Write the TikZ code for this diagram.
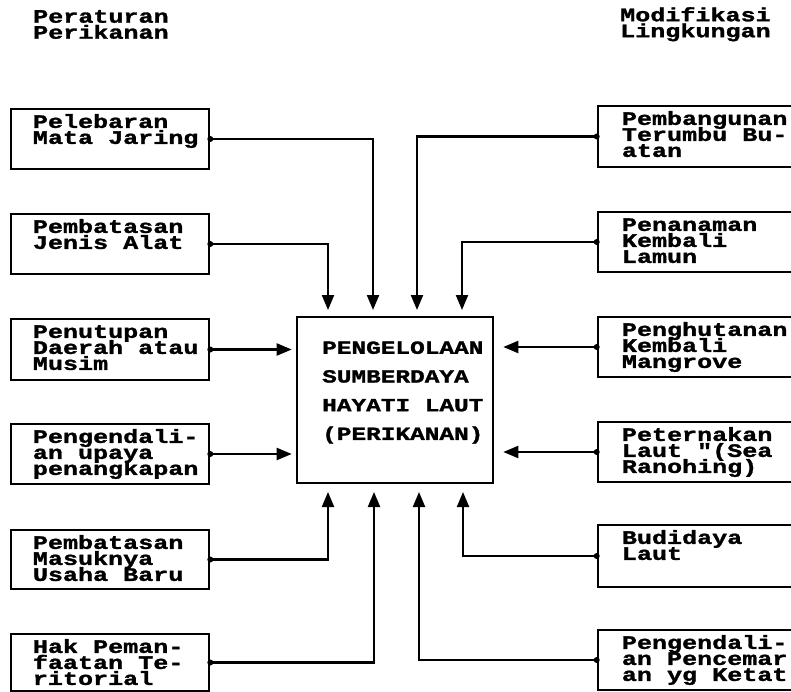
\documentclass[tikz,border=0pt]{standalone}
\usepackage{fontspec}
\usetikzlibrary{arrows.meta,calc}
\newfontfamily\dotfont[FakeStretch=1.32,UprightFont=* Bold,FakeBold=1.5]{Liberation Mono}
\newcommand\boxfont{\dotfont\fontsize{19}{16}\selectfont\lineskiplimit=-100pt\lineskip=0pt\relax}
\newcommand\cenfont{\dotfont\fontsize{18.5}{28.7}\selectfont\lineskiplimit=-100pt\lineskip=0pt\relax}
\newcommand\fs{\rule{0pt}{14pt}}
\tikzset{
  box/.style={draw, line width=2.6pt, rectangle, inner sep=0pt},
  lbox/.style={box, minimum width=198pt},
  rbox/.style={box, minimum width=222pt},
  txt/.style={anchor=north west, inner sep=0pt, align=left, font=\boxfont},
  arr/.style={line width=2.2pt, -{Triangle[length=15pt,width=12pt]}},
  dotc/.style={circle, fill, inner sep=0pt, minimum size=6pt},
}
\begin{document}
\begin{tikzpicture}[x=1pt,y=-1pt]
\useasboundingbox (0,0) rectangle (791,692);
\clip (0,0) rectangle (791,692);
\fill[white] (0,0) rectangle (791,692);

% headers
\node[txt] (h1) at (33,8.5) {\fs Peraturan\\Perikanan};
\node[txt] (h2) at (620,7) {\fs Modifikasi\\Lingkungan};

% centre
\node[box, minimum width=196pt, minimum height=166pt] (c) at (395,400) {};
\node[anchor=north west, inner sep=0pt, align=left, font=\cenfont] (ct) at (322,339.6)
  {\fs PENGELOLAAN\\SUMBERDAYA\\HAYATI LAUT\\(PERIKANAN)};

% left boxes
\node[lbox, minimum height=60pt] (b1) at (110,139) {};
\node[lbox, minimum height=60pt] (b2) at (110,244) {};
\node[lbox, minimum height=61pt] (b3) at (110,349.5) {};
\node[lbox, minimum height=60pt] (b4) at (110,454) {};
\node[lbox, minimum height=59pt] (b5) at (110,559.5) {};
\node[lbox, minimum height=57pt] (b6) at (110,662.5) {};

\node[txt] (t1) at ($(b1.north west)+(23,6)$) {\fs Pelebaran\\Mata Jaring};
\node[txt] (t2) at ($(b2.north west)+(23,6)$) {\fs Pembatasan\\Jenis Alat};
\node[txt] (t3) at ($(b3.north west)+(23,6)$) {\fs Penutupan\\Daerah atau\\Musim};
\node[txt] (t4) at ($(b4.north west)+(23,6)$) {\fs Pengendali-\\an upaya\\penangkapan};
\node[txt] (t5) at ($(b5.north west)+(23,6)$) {\fs Pembatasan\\Masuknya\\Usaha Baru};
\node[txt] (t6) at ($(b6.north west)+(23,6)$) {\fs Hak Peman-\\faatan Te-\\ritorial};

% right boxes
\node[rbox, minimum height=61pt] (r1) at (709,136.5) {};
\node[rbox, minimum height=60pt] (r2) at (709,242) {};
\node[rbox, minimum height=60pt] (r3) at (709,347) {};
\node[rbox, minimum height=60pt] (r4) at (709,452) {};
\node[rbox, minimum height=62pt] (r5) at (709,556) {};
\node[rbox, minimum height=60pt] (r6) at (709,660) {};

\node[txt] (u1) at ($(r1.north west)+(25,6)$) {\fs Pembangunan\\Terumbu Bu-\\atan};
\node[txt] (u2) at ($(r2.north west)+(25,6)$) {\fs Penanaman\\Kembali\\Lamun};
\node[txt] (u3) at ($(r3.north west)+(25,6)$) {\fs Penghutanan\\Kembali\\Mangrove};
\node[txt] (u4) at ($(r4.north west)+(25,6)$) {\fs Peternakan\\Laut "(Sea\\Ranohing)};
\node[txt] (u5) at ($(r5.north west)+(25,6)$) {\fs Budidaya\\Laut};
\node[txt] (u6) at ($(r6.north west)+(25,6)$) {\fs Pengendali-\\an Pencemar\\an yg Ketat};

% arrow end points
\coordinate (n1) at (328,310);
\coordinate (n2) at (373,310);
\coordinate (n3) at (417,310);
\coordinate (n4) at (462,310);
\coordinate (s1) at (328,492);
\coordinate (s2) at (374,492);
\coordinate (s3) at (419,492);
\coordinate (s4) at (463,492);

% connectors
\draw[arr] (b1.east) -| (n2);
\draw[arr] (b2.east) -| (n1);
\draw[arr, shorten >=4pt] (b3.east) -- (b3.east -| c.west);
\draw[arr, shorten >=4pt] (b4.east) -- (b4.east -| c.west);
\draw[arr] (b5.east) -| (s1);
\draw[arr] (b6.east) -| (s2);

\draw[arr] (r1.west) -| (n3);
\draw[arr] (r2.west) -| (n4);
\draw[arr, shorten >=9pt] (r3.west) -- (r3.west -| c.east);
\draw[arr, shorten >=9pt] (r4.west) -- (r4.west -| c.east);
\draw[arr] (r5.west) -| (s4);
\draw[arr] (r6.west) -| (s3);

% start dots
\foreach \b in {b1,b2,b3,b4,b5,b6} \node[dotc] at (\b.east) {};
\foreach \b in {r1,r2,r3,r4,r5,r6} \node[dotc] at (\b.west) {};
\end{tikzpicture}
\end{document}
